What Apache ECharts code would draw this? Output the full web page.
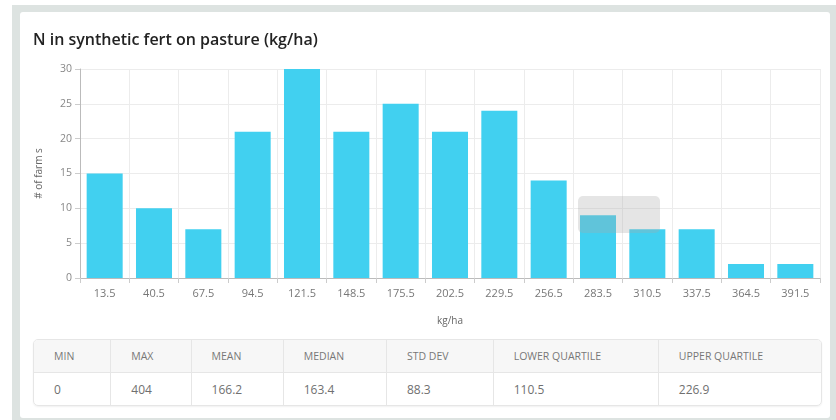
<!DOCTYPE html>
<html>
<head>
<meta charset="utf-8">
<script src="https://cdn.jsdelivr.net/npm/echarts@6/dist/echarts.min.js"></script>
<style>
  html, body { margin: 0; padding: 0; background: #fff; }
  body { width: 836px; height: 420px; position: relative; overflow: hidden; font-family: "Open Sans", "Noto Sans", sans-serif; }
  .frame { position: absolute; left: 12px; top: 5px; width: 824px; height: 415px; background: #dde3e1; }
  .card { position: absolute; left: 20px; top: 12px; width: 810px; height: 406px; background: #fff; border-radius: 3px; }
  #chart { position: absolute; left: 0; top: 0; width: 836px; height: 335px; }
  table.stats { position: absolute; left: 33px; top: 339px; width: 789px; border-collapse: separate; border-spacing: 0;
    border: 1px solid #e6e6e6; border-radius: 5px; box-shadow: 0 1px 2px rgba(0,0,0,0.06); overflow: hidden; }
  table.stats th, table.stats td { text-align: left; padding: 0 0 0 20px; border-right: 1px solid #e6e6e6; }
  table.stats th:last-child, table.stats td:last-child { border-right: none; }
  table.stats th { height: 32px; background: #f7f7f7; color: #777; font-size: 10.5px; font-weight: 400; border-bottom: 1px solid #e6e6e6; }
  table.stats td { height: 32px; color: #707070; font-size: 12px; }
</style>
</head>
<body>
<div class="frame"></div>
<div class="card"></div>
<div id="chart"></div>
<table class="stats">
  <tr id="head"></tr>
  <tr id="vals"></tr>
</table>
<script>
  // histogram bins (kg/ha) and farm counts
  const bins = ['13.5', '40.5', '67.5', '94.5', '121.5', '148.5', '175.5', '202.5', '229.5', '256.5', '283.5', '310.5', '337.5', '364.5', '391.5'];
  const farms = [15, 10, 7, 21, 30, 21, 25, 21, 24, 14, 9, 7, 7, 2, 2];

  // summary table
  const statNames = ['MIN', 'MAX', 'MEAN', 'MEDIAN', 'STD DEV', 'LOWER QUARTILE', 'UPPER QUARTILE'];
  const statValues = ['0', '404', '166.2', '163.4', '88.3', '110.5', '226.9'];
  const colWidths = [77, 80, 92, 103, 107, 166, 164];

  const head = document.getElementById('head');
  const vals = document.getElementById('vals');
  statNames.forEach((n, i) => {
      const th = document.createElement('th');
      th.textContent = n;
      th.style.width = (colWidths[i] - 20) + 'px';
      head.appendChild(th);
      const td = document.createElement('td');
      td.textContent = statValues[i];
      vals.appendChild(td);
  });

  const chart = echarts.init(document.getElementById('chart'));
  chart.setOption({
      animation: false,
      textStyle: {fontFamily: '"Open Sans", "Noto Sans", sans-serif'},
      title: {
          text: 'N in synthetic fert on pasture (kg/ha)',
          left: 28,
          top: 27,
          textStyle: {fontSize: 16, fontWeight: 600, color: '#222'}
      },
      grid: {left: 80, right: 16, top: 69, height: 209},
      xAxis: {
          type: 'category',
          data: bins,
          name: 'kg/ha',
          nameLocation: 'middle',
          nameGap: 38,
          nameTextStyle: {fontSize: 10, color: '#666'},
          axisLine: {lineStyle: {color: '#bbb'}},
          axisTick: {show: true, length: 5, lineStyle: {color: '#ccc'}},
          axisLabel: {fontSize: 11, color: '#777', margin: 10},
          splitLine: {show: true, lineStyle: {color: '#ececec'}}
      },
      yAxis: {
          type: 'value',
          min: 0,
          max: 30,
          interval: 5,
          name: '# of farm s',
          nameLocation: 'middle',
          nameRotate: 90,
          nameGap: 36,
          nameTextStyle: {fontSize: 10, color: '#666'},
          axisLine: {show: true, lineStyle: {color: '#bbb'}},
          axisTick: {show: true, length: 5, lineStyle: {color: '#ccc'}},
          axisLabel: {fontSize: 10.5, color: '#888', margin: 8},
          splitLine: {lineStyle: {color: '#ececec'}}
      },
      series: [{
          type: 'bar',
          data: farms,
          barCategoryGap: '27%',
          itemStyle: {color: '#41d0f0'}
      }],
      graphic: [{
          type: 'rect',
          shape: {x: 578, y: 196, width: 82, height: 37, r: 5},
          style: {fill: 'rgba(170,170,170,0.3)'},
          z: 100
      }]
  });
</script>
</body>
</html>
